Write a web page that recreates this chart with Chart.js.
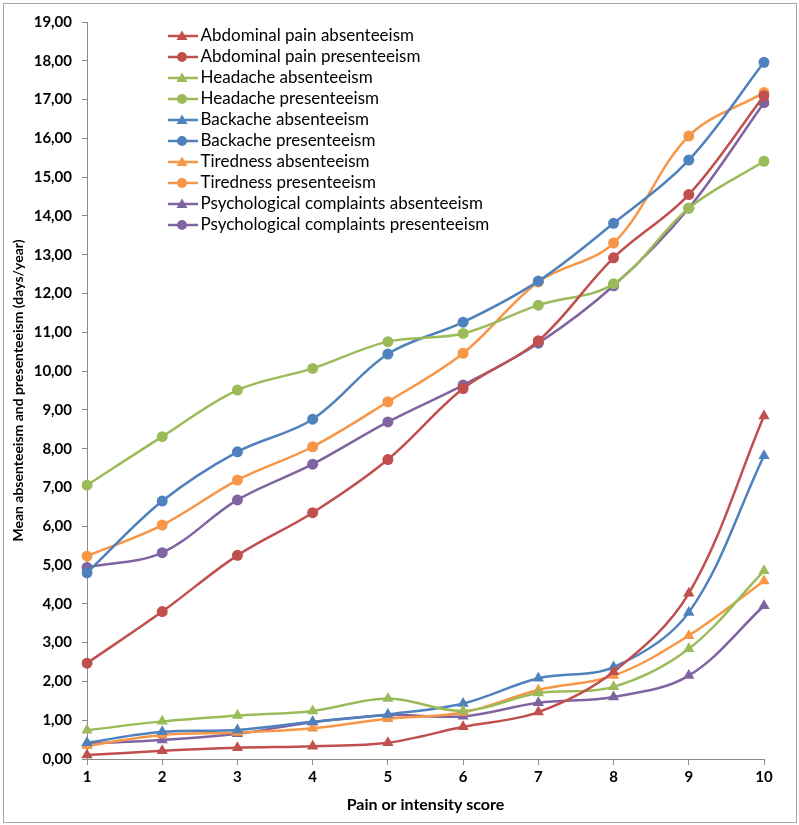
<!DOCTYPE html>
<html>
<head>
<meta charset="utf-8">
<script src="https://cdn.jsdelivr.net/npm/chart.js@4/dist/chart.umd.min.js"></script>
<style>
  html, body { margin: 0; padding: 0; background: #fff; }
  #wrap { position: relative; width: 799px; height: 825px; }
  #frame { position: absolute; left: 3px; top: 3px; width: 792px; height: 818px; border: 1px solid #a6a6a6; pointer-events: none; }
</style>
</head>
<body>
<div id="wrap">
  <canvas id="chart" width="799" height="825"></canvas>
  <div id="frame"></div>
</div>
<script>
'use strict';

// ******* DATA *******
let scores = ['1', '2', '3', '4', '5', '6', '7', '8', '9', '10'];

let abdominalAbsent = [0.10, 0.21, 0.29, 0.33, 0.42, 0.83, 1.21, 2.25, 4.27, 8.84];
let abdominalPresent = [2.47, 3.80, 5.25, 6.35, 7.72, 9.55, 10.78, 12.92, 14.55, 17.10];
let headacheAbsent = [0.74, 0.97, 1.12, 1.24, 1.56, 1.24, 1.70, 1.86, 2.84, 4.85];
let headachePresent = [7.06, 8.31, 9.51, 10.07, 10.76, 10.97, 11.70, 12.25, 14.20, 15.41];
let backacheAbsent = [0.42, 0.70, 0.75, 0.96, 1.15, 1.43, 2.08, 2.37, 3.78, 7.82];
let backachePresent = [4.80, 6.65, 7.92, 8.76, 10.44, 11.26, 12.32, 13.81, 15.44, 17.96];
let tirednessAbsent = [0.34, 0.62, 0.68, 0.79, 1.04, 1.20, 1.78, 2.15, 3.18, 4.59];
let tirednessPresent = [5.23, 6.03, 7.19, 8.05, 9.21, 10.46, 12.30, 13.30, 16.06, 17.18];
let psychAbsent = [0.40, 0.49, 0.65, 0.95, 1.13, 1.10, 1.45, 1.60, 2.15, 3.95];
let psychPresent = [4.94, 5.32, 6.68, 7.60, 8.69, 9.64, 10.72, 12.20, 14.20, 16.92];

let yMin = 0;
let yMax = 19;
let yStep = 1;

// ******* STYLE *******
let red = '#c0504d';
let green = '#9bbb59';
let blue = '#4f81bd';
let orange = '#f79646';
let purple = '#8064a2';
let fontFamily = 'Lato, "Open Sans", sans-serif';
let legendFontSize = 17;
let legendPadding = 4;

// ***** HELPERS *****

// small canvas: line with marker, used as legend symbol
function legendSymbol(color, shape) {
  let c = document.createElement('canvas');
  c.width = 32;
  c.height = 14;
  let ctx = c.getContext('2d');
  ctx.strokeStyle = color;
  ctx.fillStyle = color;
  ctx.lineWidth = 2.5;
  ctx.beginPath();
  ctx.moveTo(0, 7);
  ctx.lineTo(32, 7);
  ctx.stroke();
  ctx.beginPath();
  if (shape === 'circle') {
    ctx.arc(16, 7, 5, 0, Math.PI * 2);
  } else {
    ctx.moveTo(16, 1.5);
    ctx.lineTo(21.5, 11);
    ctx.lineTo(10.5, 11);
    ctx.closePath();
  }
  ctx.fill();
  return c;
}

function makeSeries(label, data, color, shape) {
  return {
    label: label,
    data: data,
    borderColor: color,
    backgroundColor: color,
    borderWidth: 2.5,
    pointStyle: shape,
    pointRadius: shape === 'circle' ? 5.5 : 6.5,
    pointBorderWidth: 0,
    tension: 0.35,
    fill: false,
    legendSymbol: legendSymbol(color, shape)
  };
}

// the in-area legend starts at (0, chartArea.left); move it where the original has it
let legendShift = {
  id: 'legendShift',
  afterLayout(chart) {
    if (chart.legend) {
      chart.legend.left += 81;
      chart.legend.right += 81;
      chart.legend.top += 23.5;
      chart.legend.bottom += 23.5;
    }
  }
};

let datasets = [
  makeSeries('Abdominal pain absenteeism', abdominalAbsent, red, 'triangle'),
  makeSeries('Abdominal pain presenteeism', abdominalPresent, red, 'circle'),
  makeSeries('Headache absenteeism', headacheAbsent, green, 'triangle'),
  makeSeries('Headache presenteeism', headachePresent, green, 'circle'),
  makeSeries('Backache absenteeism', backacheAbsent, blue, 'triangle'),
  makeSeries('Backache presenteeism', backachePresent, blue, 'circle'),
  makeSeries('Tiredness absenteeism', tirednessAbsent, orange, 'triangle'),
  makeSeries('Tiredness presenteeism', tirednessPresent, orange, 'circle'),
  makeSeries('Psychological complaints absenteeism', psychAbsent, purple, 'triangle'),
  makeSeries('Psychological complaints presenteeism', psychPresent, purple, 'circle')
];

let chartObj = {
  type: 'line',
  data: {
    labels: scores,
    datasets: datasets
  },
  options: {
    responsive: false,
    animation: false,
    layout: {
      padding: { left: 0, top: 22, right: 35, bottom: 0 }
    },
    plugins: {
      tooltip: { enabled: false },
      legend: {
        position: 'chartArea',
        align: 'start',
        labels: {
          usePointStyle: true,
          pointStyleWidth: 20,
          padding: legendPadding,
          color: '#000',
          font: { family: fontFamily, size: legendFontSize },
          generateLabels(chart) {
            return chart.data.datasets.map((ds, i) => ({
              text: ds.label,
              pointStyle: ds.legendSymbol,
              fillStyle: ds.borderColor,
              strokeStyle: ds.borderColor,
              lineWidth: 0,
              fontColor: '#000',
              hidden: false,
              datasetIndex: i
            }));
          }
        }
      }
    },
    scales: {
      x: {
        type: 'category',
        offset: false,
        afterFit(scale) { scale.height = 66; },
        border: { color: '#8c8c8c', width: 1 },
        grid: { drawOnChartArea: false, tickLength: 6, color: '#8c8c8c' },
        ticks: {
          color: '#000',
          padding: 3,
          maxRotation: 0,
          font: { family: fontFamily, size: 15, weight: 'bold' }
        },
        title: {
          display: true,
          text: 'Pain or intensity score',
          color: '#000',
          padding: { top: 4, bottom: 11 },
          font: { family: fontFamily, size: 16, weight: 'bold' }
        }
      },
      y: {
        min: yMin,
        max: yMax,
        afterFit(scale) { scale.width = 87; },
        border: { color: '#8c8c8c', width: 1 },
        grid: { drawOnChartArea: false, tickLength: 5, color: '#8c8c8c' },
        ticks: {
          stepSize: yStep,
          color: '#000',
          padding: 10,
          font: { family: fontFamily, size: 15, weight: 'bold' },
          callback: (v) => v.toFixed(2).replace('.', ',')
        },
        title: {
          display: true,
          text: 'Mean absenteeism and presenteeism (days/year)',
          color: '#000',
          padding: { top: 10, bottom: 0 },
          font: { family: fontFamily, size: 14, weight: 'bold' }
        }
      }
    }
  },
  plugins: [legendShift]
};

let canvasElem = document.getElementById('chart');
new Chart(canvasElem, chartObj);
</script>
</body>
</html>
